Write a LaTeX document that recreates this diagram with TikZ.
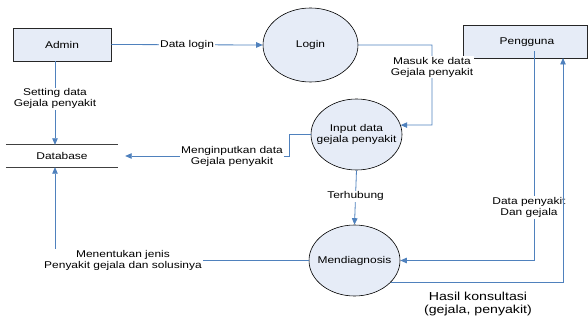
\documentclass[tikz,border=0pt]{standalone}
\usepackage{fontspec}
\setmainfont[FakeStretch=1.22]{Liberation Sans}
\usetikzlibrary{shapes.geometric,arrows.meta,calc}
\definecolor{flowblue}{HTML}{4F81BD}
\definecolor{boxfill}{HTML}{E6ECF7}
\begin{document}
\begin{tikzpicture}[x=1pt,y=-1pt,
  every node/.style={font=\fontsize{9.8}{11}\selectfont, align=center},
  entity/.style={draw=black!85, line width=0.8pt, fill=boxfill, rectangle, inner sep=0pt},
  process/.style={draw=black, line width=0.6pt, fill=boxfill, ellipse, inner sep=0pt},
  flow/.style={draw=flowblue, line width=0.8pt, -{Triangle[length=6.5pt,width=5.5pt]}},
  flowlabel/.style={fill=white, inner sep=1pt}]
\useasboundingbox (0,0) rectangle (588,323);

% nodes
\node[entity, minimum width=98pt, minimum height=33pt] (admin) at (62,44.5) {Admin};
\node[entity, minimum width=124pt, minimum height=33pt] (pengguna) at (525.5,41.5) {};
\node at (527,42) (penggunatxt) {Pengguna};
\node[process, minimum width=95pt, minimum height=74pt] (login) at (310.5,45) {};
\node (logintxt) at (login.center) {Login};
\node[process, minimum width=91pt, minimum height=71pt] (input) at (356.5,134.5) {};
\node (inputtxt) at (input.center) {Input data\\gejala penyakit};
\node[process, minimum width=91pt, minimum height=71pt] (diag) at (354.5,260.5) {};
\node (diagtxt) at (diag.center) {Mendiagnosis};
\node[minimum width=112pt, minimum height=22pt, inner sep=0pt] (db) at (62,156) {Database};
\draw[black!75, line width=0.8pt] (db.north west) -- (db.north east);
\draw[black!75, line width=0.8pt] (db.south west) -- (db.south east);

% helper coordinates
\coordinate (x55) at (55,0);
\coordinate (c1) at (432,125);
\coordinate (c3) at (289,134.5);
\coordinate (c4) at (289,156);
\coordinate (p1) at (534,51);
\coordinate (p1b) at (534,260.5);
\coordinate (p2) at (563,58);

% connectors
\draw[flow] (admin.east) -- node[flowlabel] (l1) {Data login} (login.west);
\draw[flow] (admin.south -| x55) -- node[flowlabel, pos=0.45] (l2) {Setting data\\Gejala penyakit} (db.north -| x55);
\draw[flow] (login.east) -| (c1) -- (input.12);
\node[flowlabel] (l3) at (432,67) {Masuk ke data\\Gejala penyakit};
\draw[flow, shorten >=7pt] (input.west) -- (c3) -- (c4) -- (db.east);
\node[flowlabel] (l4) at (232,156) {Menginputkan data\\Gejala penyakit};
\draw[flow] (input.south) -- node[flowlabel, pos=0.48] (l5) {Terhubung} (diag.north);
\draw[flow] (p1) -- (p1b) -- (diag.east);
\node[flowlabel] (l6) at (529,207.5) {Data penyakit\\Dan gejala};
\draw[flow] (diag.-31) -| (p2);
\node[font=\fontsize{11.6}{13}\selectfont] (l7) at (478,303.5) {Hasil konsultasi\\(gejala, penyakit)};
\draw[flow] (diag.west) -| (db.south -| x55);
\node[flowlabel] (l8) at (123,260.5) {Menentukan jenis\\Penyakit gejala dan solusinya};
\end{tikzpicture}
\end{document}
